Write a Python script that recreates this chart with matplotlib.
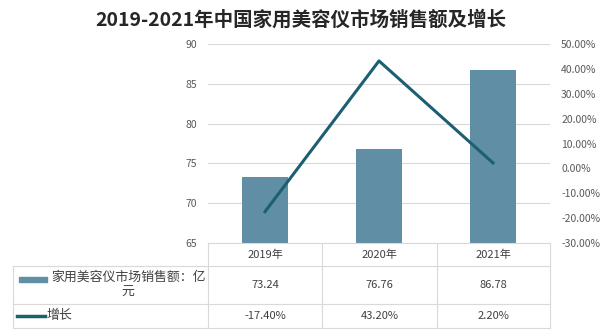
import matplotlib.pyplot as plt
from matplotlib.lines import Line2D
from matplotlib.patches import Rectangle
from matplotlib.ticker import FuncFormatter

plt.rcParams['font.family'] = ['Noto Sans CJK SC', 'DejaVu Sans']

years = ['2019年', '2020年', '2021年']
sales = [73.24, 76.76, 86.78]
growth = [-17.40, 43.20, 2.20]
sales_name = '家用美容仪市场销售额：亿\n元'
growth_name = '增长'
title = '2019-2021年中国家用美容仪市场销售额及增长'

bar_color = '#5f8ea5'
line_color = '#1c5f73'
grid_color = '#d9d9d9'
text_color = '#595959'

W, H = 602, 331
fig = plt.figure(figsize=(W / 100, H / 100), dpi=100)


def fx(px):
    return px / W


def fy(py):
    return 1 - py / H


left, right, top, bottom = 208, 550, 44, 243
ax = fig.add_axes([fx(left), fy(bottom), fx(right - left), fy(top) - fy(bottom)])
x = range(len(years))
ax.bar(x, sales, width=0.4, color=bar_color, zorder=2)
ax.set_ylim(65, 90)
ax.set_xlim(-0.5, 2.5)
ax.set_yticks([65, 70, 75, 80, 85, 90])
ax.yaxis.grid(True, color=grid_color, linewidth=0.8, zorder=0)
ax.set_xticks([])
for s in ax.spines.values():
    s.set_visible(False)
ax.tick_params(axis='y', length=0, labelsize=7.5, labelcolor=text_color, pad=8)

ax2 = ax.twinx()
ax2.plot(x, growth, color=line_color, linewidth=2.2, zorder=3)
ax2.set_ylim(-30, 50)
ax2.set_yticks(range(-30, 51, 10))
ax2.yaxis.set_major_formatter(FuncFormatter(lambda v, p: '%.2f%%' % v))
for s in ax2.spines.values():
    s.set_visible(False)
ax2.tick_params(axis='y', length=0, labelsize=7.5, labelcolor=text_color, pad=8)

fig.text(0.5, fy(20), title, ha='center', va='center', fontsize=14,
         fontweight='bold', color='#262626')

# data table under the axes
cols = [208, 322, 437, 550]
rows = [243, 266, 304, 328]
lw = 0.8


def hline(y, x0, x1):
    fig.add_artist(Line2D([fx(x0), fx(x1)], [fy(y), fy(y)], color=grid_color, linewidth=lw))


def vline(xp, y0, y1):
    fig.add_artist(Line2D([fx(xp), fx(xp)], [fy(y0), fy(y1)], color=grid_color, linewidth=lw))


hline(rows[0], cols[0], cols[-1])
for r in rows[1:]:
    hline(r, 13, cols[-1])
for c in cols:
    vline(c, rows[0], rows[-1])
vline(13, rows[1], rows[-1])

for i, yr in enumerate(years):
    cx = (cols[i] + cols[i + 1]) / 2
    fig.text(fx(cx), fy((rows[0] + rows[1]) / 2), yr, ha='center', va='center',
             fontsize=8, color='#404040')
    fig.text(fx(cx), fy((rows[1] + rows[2]) / 2), '%.2f' % sales[i], ha='center',
             va='center', fontsize=8, color='#404040')
    fig.text(fx(cx), fy((rows[2] + rows[3]) / 2), '%.2f%%' % growth[i], ha='center',
             va='center', fontsize=8, color='#404040')

# legend keys in the first column
fig.add_artist(Rectangle((fx(19), fy(282)), fx(28), fy(277) - fy(282), color=bar_color,
                         transform=fig.transFigure))
fig.text(fx(128), fy((rows[1] + rows[2]) / 2), sales_name, ha='center', va='center',
         multialignment='center', fontsize=9.3, color='#404040', linespacing=1.2)
fig.add_artist(Line2D([fx(17), fx(45)], [fy(316), fy(316)], color=line_color, linewidth=2.5))
fig.text(fx(47), fy(316), growth_name, ha='left', va='center', fontsize=9.3, color='#404040')

fig.savefig('out.png', dpi=100, facecolor='white')
